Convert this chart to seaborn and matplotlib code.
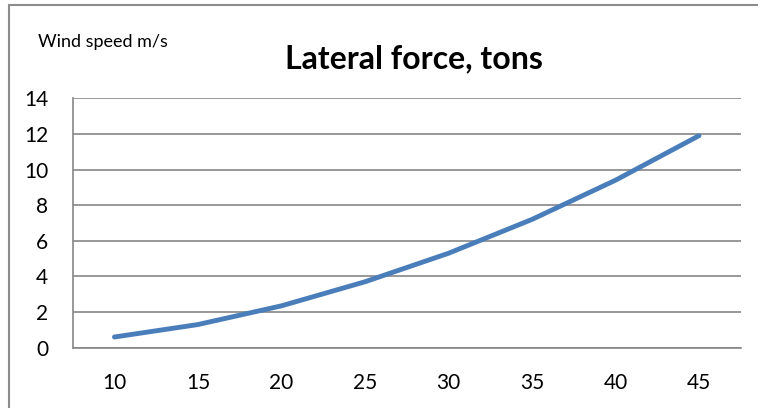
import matplotlib
matplotlib.use("Agg")
import matplotlib.pyplot as plt
import seaborn as sns
import pandas as pd
from matplotlib.patches import Rectangle

# --- data ---
wind_speed = ["10", "15", "20", "25", "30", "35", "40", "45"]
lateral_force = [0.6, 1.3, 2.35, 3.7, 5.3, 7.2, 9.4, 11.9]
y_ticks = [0, 2, 4, 6, 8, 10, 12, 14]

LINE_COLOR = "#4A7EBB"
GRID_COLOR = "#868686"

sns.set_style("white")
plt.rcParams["font.family"] = ["Lato", "DejaVu Sans"]
plt.rcParams["text.color"] = "black"

df = pd.DataFrame({"wind": wind_speed, "force": lateral_force})

fig = plt.figure(figsize=(7.58, 4.08), dpi=100)
ax = fig.add_axes([72.7 / 758, 1 - 347.7 / 408, (740.7 - 72.7) / 758, (347.7 - 98.3) / 408])

sns.lineplot(data=df, x="wind", y="force", color=LINE_COLOR, linewidth=3.5,
             solid_capstyle="round", sort=False, ax=ax)

# category axis: labels at centres, tick marks between categories
n = len(wind_speed)
ax.set_xlim(-0.5, n - 0.5)
ax.set_xticks(range(n))
ax.set_xticklabels(wind_speed)
ax.set_xticks([i - 0.5 for i in range(n + 1)], minor=True)
ax.tick_params(axis="x", which="major", length=0, pad=18, labelsize=15, labelcolor="black")
ax.tick_params(axis="x", which="minor", length=6, width=1.2, color=GRID_COLOR, direction="out")

ax.set_ylim(0, 14)
ax.set_yticks(y_ticks)
ax.tick_params(axis="y", length=6, width=1.2, color=GRID_COLOR, pad=11.5, labelsize=15,
               labelcolor="black", direction="out")
ax.yaxis.grid(True, color=GRID_COLOR, linewidth=1.2)
ax.set_axisbelow(True)

for side in ["top", "right"]:
    ax.spines[side].set_visible(False)
for side in ["left", "bottom"]:
    ax.spines[side].set_color(GRID_COLOR)
    ax.spines[side].set_linewidth(1.2)

ax.set_xlabel("")
ax.set_ylabel("")

fig.text(413.5 / 758, 1 - 68 / 408, "Lateral force, tons", ha="center", va="baseline",
         fontsize=23, fontweight="bold", color="black")
fig.text(38 / 758, 1 - 47 / 408, "Wind speed m/s", ha="left", va="baseline", fontsize=13,
         color="black")

# chart area border (only left and top edges visible in the crop)
fig.patches.append(Rectangle((8.5 / 758, -0.1), 1.2, 1 - 5.5 / 408 + 0.1,
                             transform=fig.transFigure, fill=False,
                             edgecolor="#8C8C8C", linewidth=1.5))

fig.savefig("out.png", dpi=100)
